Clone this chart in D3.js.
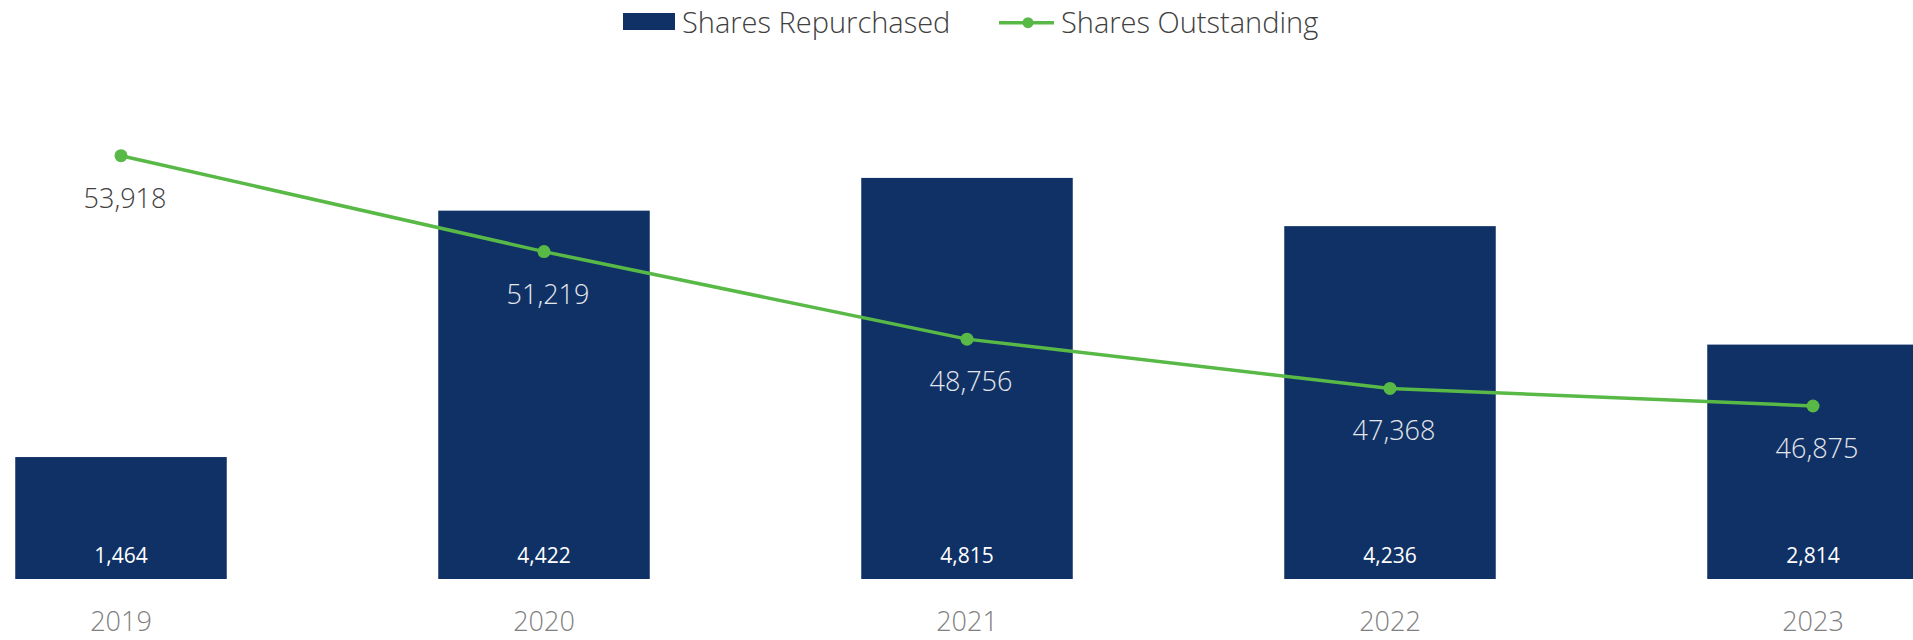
<!DOCTYPE html>
<html>
<head>
<meta charset="utf-8">
<script src="https://cdn.jsdelivr.net/npm/d3@7"></script>
<style>
  html, body { margin: 0; padding: 0; background: #fff; }
  svg { display: block; font-family: "Open Sans", "Segoe UI", sans-serif; }
</style>
</head>
<body>
<svg id="chart" width="1913" height="640"></svg>
<script>
const years = ["2019", "2020", "2021", "2022", "2023"];
const sharesRepurchased = [1464, 4422, 4815, 4236, 2814];
const sharesOutstanding = [53918, 51219, 48756, 47368, 46875];
const seriesNames = ["Shares Repurchased", "Shares Outstanding"];

const W = 1913, H = 640;
const barColor = "#103166";
const lineColor = "#58b947";
const fmt = d3.format(",");

const svg = d3.select("#chart");

const x = d3.scaleBand().domain(years).range([-90.5, 2024.5]).paddingInner(0.5).paddingOuter(0.25);
const yBar = d3.scaleLinear().domain([0, 6000]).range([579, 79.2]);
const yLine = d3.scaleLinear().domain([40000, 55000]).range([650.3, 117.25]);

const data = years.map((y, i) => ({ year: y, rep: sharesRepurchased[i], out: sharesOutstanding[i] }));

// bars
svg.append("g").selectAll("rect").data(data).join("rect")
  .attr("x", d => x(d.year))
  .attr("y", d => yBar(d.rep))
  .attr("width", x.bandwidth())
  .attr("height", d => yBar(0) - yBar(d.rep))
  .attr("fill", barColor);

// bar labels
svg.append("g").selectAll("text").data(data).join("text")
  .attr("x", d => x(d.year) + x.bandwidth() / 2)
  .attr("y", yBar(0) - 16)
  .attr("text-anchor", "middle")
  .attr("fill", "#ffffff")
  .attr("font-size", 21)
  .attr("font-weight", 400)
  .text(d => fmt(d.rep));

// line
const cx = d => x(d.year) + x.bandwidth() / 2;
svg.append("path").datum(data)
  .attr("d", d3.line().x(cx).y(d => yLine(d.out)))
  .attr("fill", "none")
  .attr("stroke", lineColor)
  .attr("stroke-width", 3.5);

svg.append("g").selectAll("circle").data(data).join("circle")
  .attr("cx", cx)
  .attr("cy", d => yLine(d.out))
  .attr("r", 6.5)
  .attr("fill", lineColor);

// line labels
svg.append("g").selectAll("text").data(data).join("text")
  .attr("x", d => cx(d) + 4)
  .attr("y", d => yLine(d.out) + 52)
  .attr("text-anchor", "middle")
  .attr("font-size", 27)
  .attr("font-weight", 300)
  .attr("fill", d => (yLine(d.out) + 30 > yBar(d.rep)) ? "#e4e6ea" : "#404040")
  .text(d => fmt(d.out));

// x axis labels
const xAxis = d3.axisBottom(x).tickSize(0).tickPadding(0);
const gx = svg.append("g").attr("transform", "translate(0,612)").call(xAxis);
gx.select(".domain").remove();
gx.selectAll("text")
  .attr("dy", 0)
  .attr("y", 19)
  .attr("font-size", 27)
  .attr("font-weight", 300)
  .attr("font-family", "'Open Sans', sans-serif")
  .attr("fill", "#808080");

// legend
const lg = svg.append("g");
lg.append("rect").attr("x", 623).attr("y", 13).attr("width", 52).attr("height", 17).attr("fill", barColor);
lg.append("text").attr("x", 682).attr("y", 33).attr("font-size", 29).attr("font-weight", 300)
  .attr("fill", "#404040").text(seriesNames[0]);
lg.append("line").attr("x1", 999).attr("x2", 1054).attr("y1", 22.7).attr("y2", 22.7)
  .attr("stroke", lineColor).attr("stroke-width", 3.5);
lg.append("circle").attr("cx", 1028).attr("cy", 22.7).attr("r", 5.5).attr("fill", lineColor);
lg.append("text").attr("x", 1061).attr("y", 33).attr("font-size", 29).attr("font-weight", 300)
  .attr("fill", "#404040").text(seriesNames[1]);
</script>
</body>
</html>
